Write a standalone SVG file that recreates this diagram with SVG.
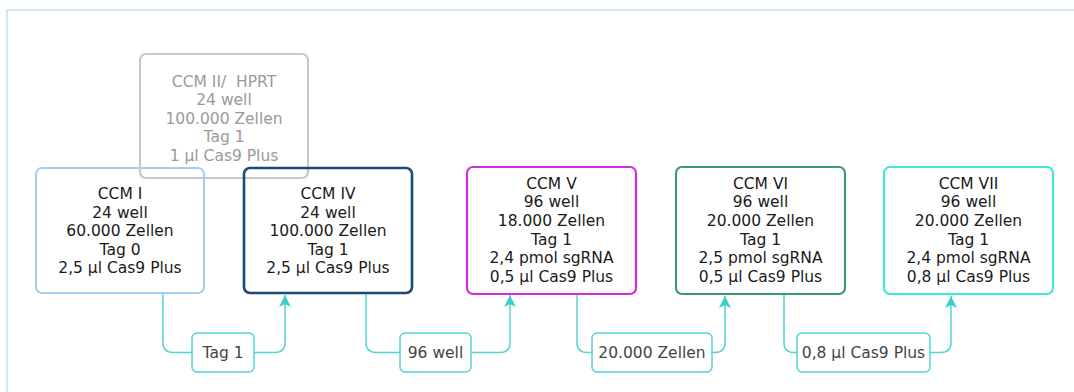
<svg xmlns="http://www.w3.org/2000/svg" width="1074" height="392" viewBox="0 0 1074 392">
<style>
.bg{fill:#ffffff}
.frame{fill:none;stroke:#c5def2;stroke-width:1.5}
.node{fill:none;stroke-width:2.2}
.t{font-family:"DejaVu Sans","Liberation Sans",sans-serif;font-size:15.5px;fill:#1a1a1a;text-anchor:middle;white-space:pre}
.tg{fill:#9a9a9a}
.conn{fill:none;stroke:#55d4d4;stroke-width:1.5}
.lbl{fill:#ffffff;stroke:#55d4d4;stroke-width:1.5}
.lt{font-family:"DejaVu Sans","Liberation Sans",sans-serif;font-size:15.5px;fill:#444444;text-anchor:middle}
</style>
<defs>
<marker id="arr" markerUnits="userSpaceOnUse" markerWidth="14" markerHeight="14" viewBox="0 0 14 14" refX="13" refY="7" orient="auto">
<path d="M1,1 L13,7 L1,13 L4,7 z" fill="#3fcccc"/>
</marker>
</defs>
<rect class="bg" x="0" y="0" width="1074" height="392"/>
<rect class="frame" x="7" y="10" width="1090" height="400"/>

<g id="ccm2">
<rect class="node" x="140" y="54" width="168" height="124" rx="6" style="stroke:#c8c8c8"/>
<text class="t tg" x="224" y="86.5" xml:space="preserve">CCM II/  HPRT</text>
<text class="t tg" x="224" y="105">24 well</text>
<text class="t tg" x="224" y="123.5">100.000 Zellen</text>
<text class="t tg" x="224" y="142">Tag 1</text>
<text class="t tg" x="224" y="160.5">1 µl Cas9 Plus</text>
</g>

<g id="ccm1">
<rect class="node" x="36" y="168" width="168" height="125" rx="6" style="stroke:#a3cff8"/>
<text class="t" x="120" y="199">CCM I</text>
<text class="t" x="120" y="217.6">24 well</text>
<text class="t" x="120" y="236.2">60.000 Zellen</text>
<text class="t" x="120" y="254.8">Tag 0</text>
<text class="t" x="120" y="273.4">2,5 µl Cas9 Plus</text>
</g>

<g id="ccm4">
<rect class="node" x="244" y="168" width="168" height="125" rx="6" style="stroke:#1d4a74;stroke-width:2.6"/>
<text class="t" x="328" y="199">CCM IV</text>
<text class="t" x="328" y="217.6">24 well</text>
<text class="t" x="328" y="236.2">100.000 Zellen</text>
<text class="t" x="328" y="254.8">Tag 1</text>
<text class="t" x="328" y="273.4">2,5 µl Cas9 Plus</text>
</g>

<g id="ccm5">
<rect class="node" x="467" y="167" width="169" height="127" rx="6" style="stroke:#d92cd9"/>
<text class="t" x="551.5" y="188.5">CCM V</text>
<text class="t" x="551.5" y="207.2">96 well</text>
<text class="t" x="551.5" y="225.9">18.000 Zellen</text>
<text class="t" x="551.5" y="244.6">Tag 1</text>
<text class="t" x="551.5" y="263.3">2,4 pmol sgRNA</text>
<text class="t" x="551.5" y="282">0,5 µl Cas9 Plus</text>
</g>

<g id="ccm6">
<rect class="node" x="676" y="167" width="169" height="127" rx="6" style="stroke:#3b9a73"/>
<text class="t" x="760.5" y="188.5">CCM VI</text>
<text class="t" x="760.5" y="207.2">96 well</text>
<text class="t" x="760.5" y="225.9">20.000 Zellen</text>
<text class="t" x="760.5" y="244.6">Tag 1</text>
<text class="t" x="760.5" y="263.3">2,5 pmol sgRNA</text>
<text class="t" x="760.5" y="282">0,5 µl Cas9 Plus</text>
</g>

<g id="ccm7">
<rect class="node" x="884" y="167" width="169" height="127" rx="6" style="stroke:#3ee8d6"/>
<text class="t" x="968.5" y="188.5">CCM VII</text>
<text class="t" x="968.5" y="207.2">96 well</text>
<text class="t" x="968.5" y="225.9">20.000 Zellen</text>
<text class="t" x="968.5" y="244.6">Tag 1</text>
<text class="t" x="968.5" y="263.3">2,4 pmol sgRNA</text>
<text class="t" x="968.5" y="282">0,8 µl Cas9 Plus</text>
</g>

<g id="connectors">
<path class="conn" d="M163,294 V342.5 Q163,352.5 173,352.5 H275 Q285,352.5 285,342.5 V295" marker-end="url(#arr)"/>
<rect class="lbl" x="192" y="333" width="62" height="39" rx="5"/>
<text class="lt" x="223" y="358">Tag 1</text>

<path class="conn" d="M366,294 V342.5 Q366,352.5 376,352.5 H500 Q510,352.5 510,342.5 V295" marker-end="url(#arr)"/>
<rect class="lbl" x="400" y="333" width="71" height="39" rx="5"/>
<text class="lt" x="435.5" y="358">96 well</text>

<path class="conn" d="M577,295 V342.5 Q577,352.5 587,352.5 H715 Q725,352.5 725,342.5 V296" marker-end="url(#arr)"/>
<rect class="lbl" x="592" y="333" width="120" height="39" rx="5"/>
<text class="lt" x="652" y="358">20.000 Zellen</text>

<path class="conn" d="M784,295 V342.5 Q784,352.5 794,352.5 H941 Q951,352.5 951,342.5 V296" marker-end="url(#arr)"/>
<rect class="lbl" x="797" y="333" width="133" height="39" rx="5"/>
<text class="lt" x="863.5" y="358">0,8 µl Cas9 Plus</text>
</g>
</svg>
